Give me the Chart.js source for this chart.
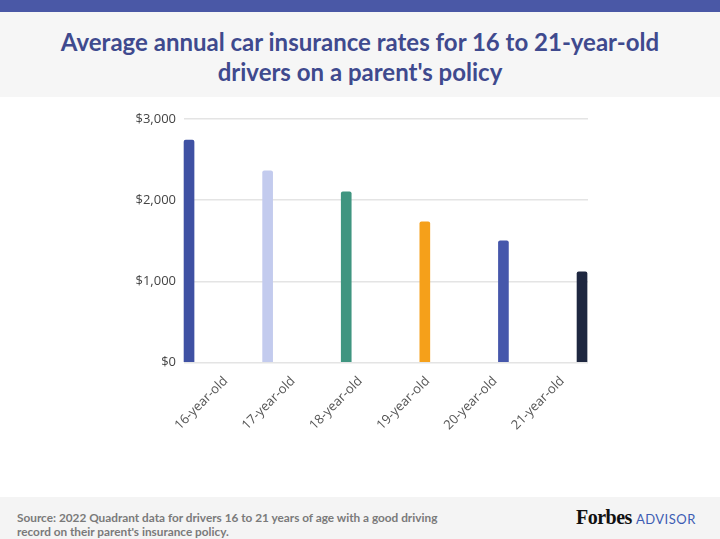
<!DOCTYPE html>
<html>
<head>
<meta charset="utf-8">
<script src="https://cdn.jsdelivr.net/npm/chart.js@4.4.0/dist/chart.umd.min.js"></script>
<style>
  body { margin: 0; background: #fff; }
  #wrap { position: relative; width: 720px; height: 539px; overflow: hidden; background: #fff; }
  #topbar { position: absolute; left: 0; top: 0; width: 720px; height: 12px; background: #4a58a6; }
  #head { position: absolute; left: 0; top: 12px; width: 720px; height: 85px; background: #f6f6f6; }
  #head h1 { margin: 0; padding-top: 15px; text-align: center; font-family: Lato, sans-serif; font-weight: 700;
    font-size: 24px; line-height: 30px; color: #3f4a8e; }
  #box { position: absolute; left: 0; top: 97px; width: 720px; height: 398px; }
  #foot { position: absolute; left: 0; top: 497px; width: 720px; height: 42px; background: #f4f4f4; }
  #src { position: absolute; left: 17px; top: 14px; font-family: Lato, sans-serif; font-weight: 700; font-size: 11.8px;
    line-height: 14px; color: #7a7a7a; }
  #logo { position: absolute; left: 576px; top: 9px; white-space: nowrap; }
  #logo .f { font-family: "Liberation Serif", serif; font-weight: 700; font-size: 20px; color: #111; letter-spacing: -0.5px; }
  #logo .a { font-family: Lato, sans-serif; font-size: 13px; color: #3d5cb3; letter-spacing: 0.5px; margin-left: 4px; }
</style>
</head>
<body>
<div id="wrap">
  <div id="topbar"></div>
  <div id="head"><h1>Average annual car insurance rates for 16 to 21-year-old<br>drivers on a parent's policy</h1></div>
  <div id="box"><canvas id="chart"></canvas></div>
  <div id="foot">
    <div id="src">Source: 2022 Quadrant data for drivers 16 to 21 years of age with a good driving<br>record on their parent's insurance policy.</div>
    <div id="logo"><span class="f">Forbes</span><span class="a">ADVISOR</span></div>
  </div>
</div>
<script>
var etichette = ['16-year-old', '17-year-old', '18-year-old', '19-year-old', '20-year-old', '21-year-old'];
var tariffe = [2740, 2362, 2103, 1734, 1500, 1118];
var colori = ['#3f51a3', '#c3cbee', '#3f9580', '#f5a01a', '#4657ab', '#1e2740'];
var tickValori = [0, 1000, 2000, 3000];

var punti = [];
for (var i = 0; i < tariffe.length; i++) {
  punti.push({ x: i, y: tariffe[i] });
}

var grafico = new Chart(document.getElementById('chart'), {
  type: 'bar',
  data: {
    labels: etichette,
    datasets: [{
      data: punti,
      xAxisID: 'xb',
      backgroundColor: colori,
      barThickness: 10,
      borderRadius: 2,
      borderSkipped: 'start',
      clip: false
    }]
  },
  options: {
    responsive: true,
    maintainAspectRatio: false,
    animation: false,
    layout: { padding: { left: 110, right: 132, top: 22, bottom: 0 } },
    plugins: { legend: { display: false }, tooltip: { enabled: false } },
    scales: {
      x: {
        type: 'category',
        offset: true,
        grid: { display: false },
        border: { display: false },
        ticks: {
          maxRotation: 45, minRotation: 45, autoSkip: false, labelOffset: 8,
          color: '#555', font: { family: 'Open Sans', size: 13 }
        },
        afterFit: function(s) { s.height = 132.5; }
      },
      // asse nascosto per le barre (spaziatura diversa dalle etichette)
      xb: {
        type: 'linear',
        display: false,
        offset: false,
        grid: { offset: false },
        min: -0.064,
        max: 5.076
      },
      y: {
        min: 0,
        max: 3000,
        afterBuildTicks: function(s) { s.ticks = tickValori.map(function(v){ return { value: v }; }); },
        grid: { color: '#e4e4e4', lineWidth: 1.5, drawTicks: false },
        border: { display: false },
        ticks: {
          padding: 8,
          color: '#444',
          font: { family: 'Open Sans', size: 13 },
          callback: function(v) { return '$' + v.toLocaleString('en-US'); }
        },
        afterFit: function(s) { s.width = 74; }
      }
    }
  }
});
</script>
</body>
</html>
